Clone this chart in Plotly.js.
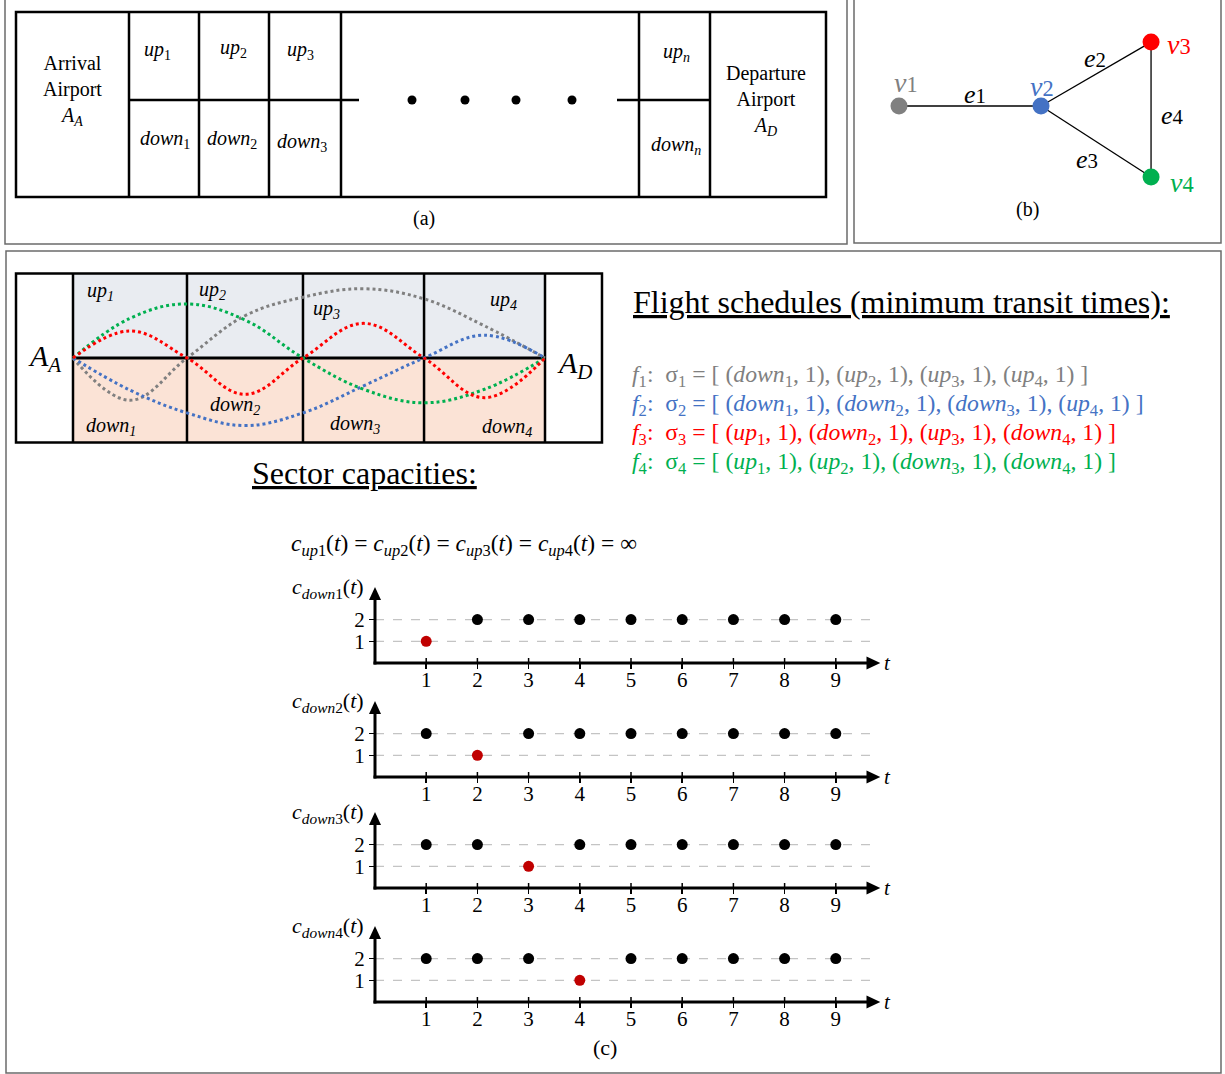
<!DOCTYPE html>
<html>
<head>
<meta charset="utf-8">
<script src="https://cdn.plot.ly/plotly-3.0.1.min.js"></script>
<style>html,body{margin:0;padding:0;background:#fff;}#chart{width:1225px;height:1074px;}</style>
</head>
<body>
<div id="chart"></div>
<script>
// ---------------- DATA ----------------
// Panel (c) capacity plots
var tValues = [1, 2, 3, 4, 5, 6, 7, 8, 9];
var capDown1 = [1, 2, 2, 2, 2, 2, 2, 2, 2];
var capDown2 = [2, 1, 2, 2, 2, 2, 2, 2, 2];
var capDown3 = [2, 2, 1, 2, 2, 2, 2, 2, 2];
var capDown4 = [2, 2, 2, 1, 2, 2, 2, 2, 2];
var capYTicks = [1, 2];
var capLabels = ['down1', 'down2', 'down3', 'down4'];

// Panel (b) graph
var nodeNames = ['v1', 'v2', 'v3', 'v4'];
var nodeX = [0, 2, 3.55, 3.55];
var nodeY = [0, 0, 0.9, -1.0];
var edgeNames = ['e1', 'e2', 'e3', 'e4'];
var edgeFrom = [0, 1, 1, 2];
var edgeTo = [1, 2, 3, 3];

// Panel (c) sector diagram: sector edges, and flight paths (value at each sector edge / sector middle; + = up, - = down)
var sectorEdges = [0, 0.966, 1.949, 2.975, 4];
var pathF1 = [0, -0.5, 0, 0.5, 0.72, 0.82, 0.70, 0.38, 0];
var pathF2 = [0, -0.38, -0.65, -0.80, -0.65, -0.33, 0, 0.27, 0];
var pathF3 = [0, 0.32, 0, -0.43, 0, 0.41, 0, -0.47, 0];
var pathF4 = [0, 0.47, 0.64, 0.45, 0, -0.37, -0.53, -0.37, 0];
var schedF1 = [['down', 1], ['up', 2], ['up', 3], ['up', 4]];
var schedF2 = [['down', 1], ['down', 2], ['down', 3], ['up', 4]];
var schedF3 = [['up', 1], ['down', 2], ['up', 3], ['down', 4]];
var schedF4 = [['up', 1], ['up', 2], ['down', 3], ['down', 4]];
var transitTime = 1;
var sectorNums = [1, 2, 3, 4];

// Panel (a) labels
var aUpLabels = ['1', '2', '3', 'n'];
var aDownLabels = ['1', '2', '3', 'n'];

// ---------------- STYLE ----------------
var SERIF = 'Liberation Serif, Times New Roman, serif';
var COL = {gray: '#808080', blue: '#4472C4', red: '#FF0000', green: '#00B050'};
var flightColors = [COL.gray, COL.blue, COL.red, COL.green];
var W = 1225, H = 1074;
function py(p) { return 1 - p / H; }
function px(p) { return p / W; }

var data = [];
var shapes = [];
var ann = [];
var layout = {
  width: W, height: H, margin: {l: 0, r: 0, t: 0, b: 0},
  paper_bgcolor: '#fff', plot_bgcolor: 'rgba(0,0,0,0)', showlegend: false,
  font: {family: SERIF, color: '#000'},
  xaxis: {domain: [0, 1], range: [0, W], visible: false, fixedrange: true},
  yaxis: {domain: [0, 1], range: [H, 0], visible: false, fixedrange: true}
};
data.push({x: [], y: [], xaxis: 'x', yaxis: 'y', type: 'scatter', hoverinfo: 'skip'});

function cline(x0, y0, x1, y1, w, c, extra) {
  var s = {type: 'line', xref: 'x', yref: 'y', x0: x0, y0: y0, x1: x1, y1: y1, line: {color: c || '#000', width: w || 2.5}};
  if (extra) for (var k in extra) s[k] = extra[k];
  shapes.push(s);
}
function ctext(x, y, t, size, extra) {
  var a = {xref: 'x', yref: 'y', x: x, y: y, text: t, showarrow: false, font: {family: SERIF, size: size, color: '#000'}, xanchor: 'center', yanchor: 'middle'};
  if (extra) for (var k in extra) { if (k === 'color') a.font.color = extra[k]; else a[k] = extra[k]; }
  ann.push(a);
}

// ---------------- PANEL BORDERS ----------------
[[5, -1, 847, 244], [854, -1, 1221, 243], [6, 251, 1221, 1073]].forEach(function (b) {
  shapes.push({type: 'rect', xref: 'x', yref: 'y', x0: b[0], y0: b[1], x1: b[2], y1: b[3], line: {color: '#6b6b6b', width: 1.5}});
});

// ---------------- PANEL (a) ----------------
shapes.push({type: 'rect', xref: 'x', yref: 'y', x0: 16, y0: 12, x1: 826, y1: 197, line: {color: '#000', width: 2.5}});
[129, 199, 269, 341, 639, 710].forEach(function (x) { cline(x, 12, x, 197); });
cline(129, 100, 359, 100);
cline(617, 100, 710, 100);
[412, 465, 516, 572].forEach(function (x) {
  shapes.push({type: 'circle', xref: 'x', yref: 'y', x0: x - 4.5, x1: x + 4.5, y0: 100 - 4.5, y1: 100 + 4.5, fillcolor: '#000', line: {width: 0}});
});
var aUpX = [157, 233, 300, 676], aUpY = [50, 48, 50, 52];
var aDownX = [165, 232, 302, 676], aDownY = [139, 139, 142, 145];
aUpLabels.forEach(function (s, i) { ctext(aUpX[i], aUpY[i], '<i>up</i><sub>' + (s === 'n' ? '<i>n</i>' : s) + '</sub>', 20); });
aDownLabels.forEach(function (s, i) { ctext(aDownX[i], aDownY[i], '<i>down</i><sub>' + (s === 'n' ? '<i>n</i>' : s) + '</sub>', 20); });
ctext(72, 90, 'Arrival<br>Airport<br><i>A<sub>A</sub></i>', 20);
ctext(766, 100, 'Departure<br>Airport<br><i>A<sub>D</sub></i>', 20);
ctext(424, 218, '(a)', 20);

// ---------------- PANEL (b) graph ----------------
layout.xaxis6 = {domain: [px(863.5), px(1218.5)], range: [-0.5, 4.5], visible: false, fixedrange: true, anchor: 'y6'};
layout.yaxis6 = {domain: [py(212.5), py(6.6)], range: [-1.5, 1.4], visible: false, fixedrange: true, anchor: 'x6'};
var ex = [], ey = [];
edgeFrom.forEach(function (f, i) { ex.push(nodeX[f], nodeX[edgeTo[i]], null); ey.push(nodeY[f], nodeY[edgeTo[i]], null); });
data.push({x: ex, y: ey, xaxis: 'x6', yaxis: 'y6', mode: 'lines', line: {color: '#000', width: 1.3}, hoverinfo: 'skip'});
data.push({x: nodeX, y: nodeY, xaxis: 'x6', yaxis: 'y6', mode: 'markers', marker: {size: 17, color: flightColors, line: {width: 0}}, hoverinfo: 'skip'});
var nodeShift = [[7, -23], [1, -19], [28, 2], [31, 6]];
nodeNames.forEach(function (n, i) {
  ann.push({xref: 'x6', yref: 'y6', x: nodeX[i], y: nodeY[i], xshift: nodeShift[i][0], yshift: -nodeShift[i][1], text: '<i>' + n.charAt(0) + '</i><span style="font-size:80%">' + n.slice(1) + '</span>', showarrow: false,
    font: {family: SERIF, size: 28, color: flightColors[i]}, xanchor: 'center', yanchor: 'middle'});
});
var edgeShift = [[5, -11], [-1, -16], [-9, 18], [21, 6]];
edgeNames.forEach(function (n, i) {
  var mx = (nodeX[edgeFrom[i]] + nodeX[edgeTo[i]]) / 2, my = (nodeY[edgeFrom[i]] + nodeY[edgeTo[i]]) / 2;
  ann.push({xref: 'x6', yref: 'y6', x: mx, y: my, xshift: edgeShift[i][0], yshift: -edgeShift[i][1], text: '<i>' + n.charAt(0) + '</i><span style="font-size:80%">' + n.slice(1) + '</span>', showarrow: false,
    font: {family: SERIF, size: 26, color: '#000'}, xanchor: 'center', yanchor: 'middle'});
});
ctext(1027, 209, '(b)', 20);

// ---------------- PANEL (c) sector diagram ----------------
layout.xaxis7 = {domain: [px(14), px(604)], range: [-0.5, 4.5], visible: false, fixedrange: true, anchor: 'y7'};
layout.yaxis7 = {domain: [py(446.7), py(269.3)], range: [-1.05, 1.05], visible: false, fixedrange: true, anchor: 'x7'};
function r7(x0, y0, x1, y1, fill, lw) {
  shapes.push({type: 'rect', xref: 'x7', yref: 'y7', x0: x0, y0: y0, x1: x1, y1: y1, fillcolor: fill || 'rgba(0,0,0,0)', line: {color: '#000', width: lw === undefined ? 2.5 : lw}, layer: 'below'});
}
r7(0, 0, 4, 1, '#E9ECF1', 0);
r7(0, -1, 4, 0, '#FBE3D6', 0);
r7(-0.483, -1, 4.483, 1);
sectorEdges.forEach(function (x) {
  shapes.push({type: 'line', xref: 'x7', yref: 'y7', x0: x, x1: x, y0: -1, y1: 1, line: {color: '#000', width: 2.5}, layer: 'below'});
});
shapes.push({type: 'line', xref: 'x7', yref: 'y7', x0: 0, x1: 4, y0: 0, y1: 0, line: {color: '#000', width: 2.8}, layer: 'below'});
// path x positions: each sector edge and each sector middle
var pathX = [];
sectorEdges.forEach(function (e, i) { pathX.push(e); if (i < sectorEdges.length - 1) pathX.push((e + sectorEdges[i + 1]) / 2); });
[pathF1, pathF2, pathF4, pathF3].forEach(function (p, k) {
  var idx = [0, 1, 3, 2][k];
  data.push({x: pathX, y: p, xaxis: 'x7', yaxis: 'y7', mode: 'lines', line: {color: flightColors[idx], width: 3, dash: 'dot', shape: 'spline', smoothing: 1.1}, hoverinfo: 'skip'});
});
var upLblPos = [[0.23, 0.79], [1.18, 0.80], [2.15, 0.57], [3.65, 0.68]];
var dnLblPos = [[0.32, -0.81], [1.37, -0.56], [2.39, -0.79], [3.68, -0.82]];
sectorNums.forEach(function (n, i) {
  ann.push({xref: 'x7', yref: 'y7', x: upLblPos[i][0], y: upLblPos[i][1], text: '<i>up<sub>' + n + '</sub></i>', showarrow: false, font: {family: SERIF, size: 20}, xanchor: 'center', yanchor: 'middle'});
  ann.push({xref: 'x7', yref: 'y7', x: dnLblPos[i][0], y: dnLblPos[i][1], text: '<i>down<sub>' + n + '</sub></i>', showarrow: false, font: {family: SERIF, size: 20}, xanchor: 'center', yanchor: 'middle'});
});
ann.push({xref: 'x7', yref: 'y7', x: -0.24, y: 0, text: '<i>A<sub>A</sub></i>', showarrow: false, font: {family: SERIF, size: 30}, xanchor: 'center', yanchor: 'middle'});
ann.push({xref: 'x7', yref: 'y7', x: 4.25, y: -0.08, text: '<i>A<sub>D</sub></i>', showarrow: false, font: {family: SERIF, size: 30}, xanchor: 'center', yanchor: 'middle'});

// ---------------- Flight schedules text ----------------
ctext(631, 302, '<u>Flight schedules (minimum transit times):</u>', 32, {xanchor: 'left'});
var scheds = [schedF1, schedF2, schedF3, schedF4];
var schedY = [376, 405, 434, 463];
scheds.forEach(function (s, i) {
  var parts = s.map(function (e) { return '(<i>' + e[0] + '</i><sub>' + e[1] + '</sub>, ' + transitTime + ')'; });
  var txt = '<i>f</i><sub>' + (i + 1) + '</sub>:  σ<sub>' + (i + 1) + '</sub> = [ ' + parts.join(', ') + ' ]';
  ctext(630, schedY[i], txt, 23.7, {xanchor: 'left', color: flightColors[i]});
});
ctext(364, 473, '<u>Sector capacities:</u>', 32);
ctext(289, 545, '<i>c</i><sub><i>up</i>1</sub>(<i>t</i>) = <i>c</i><sub><i>up</i>2</sub>(<i>t</i>) = <i>c</i><sub><i>up</i>3</sub>(<i>t</i>) = <i>c</i><sub><i>up</i>4</sub>(<i>t</i>) = ∞', 23.5, {xanchor: 'left'});

// ---------------- Capacity plots ----------------
var caps = [capDown1, capDown2, capDown3, capDown4];
var axisY0 = [663, 777, 888, 1002]; // pixel row of each x-axis
var pxPerY = 21.7, pxPerT = 51.2, axisX0 = 375;
function tx(t) { return axisX0 + pxPerT * t; }
caps.forEach(function (c, k) {
  var n = k + 2;
  var y0p = axisY0[k];
  function ty(v) { return y0p - pxPerY * v; }
  var yTop = 3.6;
  layout['xaxis' + n] = {domain: [px(tx(0)), px(tx(10))], range: [0, 10], anchor: 'y' + n, fixedrange: true,
    showgrid: false, zeroline: false, showline: false, tickmode: 'array', tickvals: tValues, ticktext: tValues.map(String),
    ticks: 'outside', ticklen: 5, tickwidth: 1.5, tickcolor: '#000', ticklabelstandoff: -7, tickfont: {family: SERIF, size: 21, color: '#000'}};
  layout['yaxis' + n] = {domain: [py(ty(0)), py(ty(yTop))], range: [0, yTop], anchor: 'x' + n, fixedrange: true,
    showgrid: false, zeroline: false, showline: false, tickmode: 'array', tickvals: capYTicks, ticktext: capYTicks.map(String),
    ticks: 'outside', ticklen: 5, tickwidth: 1.5, tickcolor: '#000', tickfont: {family: SERIF, size: 21, color: '#000'}};
  capYTicks.forEach(function (v) {
    shapes.push({type: 'line', xref: 'x' + n, yref: 'y' + n, x0: 0, x1: 9.7, y0: v, y1: v, line: {color: '#c4c4c4', width: 1.2, dash: 'dash'}, layer: 'below'});
  });
  // small tick marks above the axis line, so the ticks cross it as in the source
  tValues.forEach(function (t) { cline(tx(t), ty(0), tx(t), ty(0) - 5, 1.5); });
  // axis lines with arrow heads (on the page canvas, so nothing is clipped)
  cline(tx(0) - 1.5, ty(0), tx(9.65), ty(0), 3);
  cline(tx(0), ty(0) + 1.5, tx(0), ty(2.95), 3);
  shapes.push({type: 'path', xref: 'x', yref: 'y', path: 'M ' + tx(9.87) + ' ' + ty(0) + ' L ' + tx(9.6) + ' ' + (ty(0) - 6.5) + ' L ' + tx(9.6) + ' ' + (ty(0) + 6.5) + ' Z', fillcolor: '#000', line: {width: 0}});
  shapes.push({type: 'path', xref: 'x', yref: 'y', path: 'M ' + tx(0) + ' ' + ty(3.5) + ' L ' + (tx(0) - 6) + ' ' + ty(2.9) + ' L ' + (tx(0) + 6) + ' ' + ty(2.9) + ' Z', fillcolor: '#000', line: {width: 0}});
  var minV = Math.min.apply(null, c);
  data.push({x: tValues, y: c, xaxis: 'x' + n, yaxis: 'y' + n, mode: 'markers', hoverinfo: 'skip', cliponaxis: false,
    marker: {size: 11, color: c.map(function (v) { return v === minV && v < 2 ? '#C00000' : '#000'; }), line: {width: 0}}});
  ctext(tx(9.9), ty(0), '<i>t</i>', 21, {xanchor: 'left'});
  ctext(tx(-0.18), ty(3.45), '<i>c</i><sub><i>' + capLabels[k].replace(/\d/, '') + '</i>' + capLabels[k].replace(/\D/g, '') + '</sub>(<i>t</i>)', 22, {xanchor: 'right'});
});
ctext(605, 1047, '(c)', 22);

layout.shapes = shapes;
layout.annotations = ann;
Plotly.newPlot('chart', data, layout, {staticPlot: true, displayModeBar: false});
</script>
</body>
</html>
